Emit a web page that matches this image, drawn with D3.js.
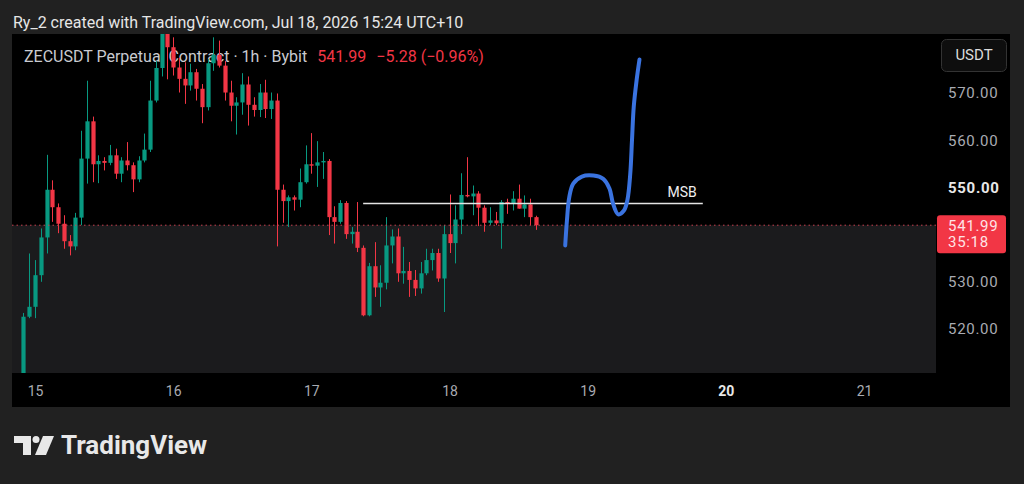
<!DOCTYPE html>
<html>
<head>
<meta charset="utf-8">
<script src="https://cdn.jsdelivr.net/npm/d3@7"></script>
<style>
  html, body { margin: 0; padding: 0; background: #212121; }
  svg { display: block; font-family: Roboto, "Noto Sans", sans-serif; }
</style>
</head>
<body>
<div id="chart"></div>
<script>
// ZECUSDT 1h candles, first bar Jul 14 22:00, one bar per hour
var firstBar = Date.UTC(2026, 6, 14, 22);
var opens = [510.0, 522.6, 524.7, 531.4, 539.4, 549.5, 545.8, 542.3, 538.6, 537.5,
  543.6, 556.1, 564.0, 554.9, 555.6, 555.2, 556.8, 552.9, 555.7, 554.7,
  551.7, 555.7, 558.0, 568.4, 575.3, 583.2, 579.7, 575.4, 573.0, 571.6,
  574.4, 570.9, 567.0, 576.3, 578.1, 575.8, 570.1, 567.3, 568.0, 571.8,
  567.5, 566.4, 570.1, 566.6, 568.4, 549.5, 547.1, 547.9, 547.4, 551.1,
  554.9, 554.6, 555.3, 555.6, 543.7, 542.7, 546.7, 540.1, 540.6, 537.2,
  522.9, 533.3, 528.8, 529.8, 537.7, 539.6, 531.8, 532.3, 530.4, 528.6,
  531.8, 534.6, 536.1, 530.7, 540.1, 538.2, 543.2, 548.4, 548.1, 548.7,
  545.7, 542.5, 543.0, 542.4, 546.9, 546.5, 547.6, 545.5, 546.4, 543.7];
var highs = [523.4, 536.0, 534.6, 541.3, 556.9, 551.5, 546.6, 544.1, 539.9, 544.6,
  562.0, 572.6, 565.0, 556.8, 556.4, 559.0, 558.2, 556.4, 559.6, 555.3,
  556.6, 561.4, 572.6, 576.8, 585.5, 586.0, 581.8, 577.5, 576.5, 576.2,
  575.1, 571.9, 577.2, 581.8, 581.1, 576.8, 572.6, 569.1, 574.2, 573.5,
  569.1, 571.9, 572.8, 570.1, 569.9, 550.6, 548.3, 548.3, 554.0, 558.9,
  561.5, 559.8, 557.5, 556.0, 546.0, 547.3, 547.1, 541.6, 546.9, 537.7,
  534.0, 538.4, 533.5, 543.7, 541.1, 541.3, 537.4, 534.2, 532.5, 534.2,
  537.0, 537.0, 537.0, 542.0, 548.5, 546.2, 553.0, 556.4, 550.4, 549.2,
  546.2, 545.8, 544.8, 547.3, 547.6, 549.2, 550.6, 548.3, 547.6, 544.0];
var lows = [509.0, 522.3, 522.3, 530.0, 536.0, 542.7, 540.3, 537.0, 535.6, 536.7,
  542.0, 550.8, 551.1, 550.9, 553.6, 554.7, 551.8, 551.1, 553.6, 549.0,
  551.1, 555.3, 557.5, 568.0, 573.5, 572.9, 573.7, 570.1, 567.7, 570.5,
  568.4, 563.6, 566.3, 574.7, 575.4, 568.4, 564.0, 561.2, 565.4, 563.1,
  565.0, 564.9, 564.7, 564.5, 537.5, 542.5, 541.6, 545.1, 545.8, 550.8,
  552.9, 550.1, 551.8, 539.9, 538.1, 542.3, 539.1, 538.1, 536.3, 522.7,
  522.7, 526.8, 524.7, 528.4, 533.9, 530.0, 529.6, 526.8, 527.0, 527.5,
  531.4, 532.4, 530.0, 523.6, 536.1, 533.9, 540.1, 547.9, 544.1, 541.8,
  540.6, 542.0, 542.0, 537.0, 544.4, 545.1, 545.5, 543.7, 542.0, 541.0];
var closes = [522.6, 524.7, 531.4, 539.4, 549.5, 545.8, 542.3, 538.6, 537.5, 543.6,
  556.1, 564.0, 554.9, 555.6, 555.2, 556.8, 552.9, 555.7, 554.7, 551.7,
  555.7, 558.0, 568.4, 575.3, 583.2, 579.7, 575.4, 573.0, 571.6, 574.4,
  570.9, 567.0, 576.3, 578.1, 575.8, 570.1, 567.3, 568.0, 571.8, 567.5,
  566.4, 570.1, 566.6, 568.4, 549.5, 547.1, 547.9, 547.4, 551.1, 554.9,
  554.6, 555.3, 555.6, 543.7, 542.7, 546.7, 540.1, 540.6, 537.2, 522.9,
  533.3, 528.8, 529.8, 537.7, 539.6, 531.8, 532.3, 530.4, 528.6, 531.8,
  534.6, 536.1, 530.7, 540.1, 538.2, 543.2, 548.4, 548.1, 548.7, 545.7,
  542.5, 543.0, 542.4, 546.9, 546.5, 547.6, 545.5, 546.4, 543.7, 541.99];

var lastPrice = 541.99;
var countdown = "35:18";
var priceTicks = [520, 530, 550, 560, 570];
var dayTicks = [15, 16, 17, 18, 19, 20, 21];

// MSB level drawn by hand: start / end time, price
var msbFrom = Date.UTC(2026, 6, 17, 9);
var msbTo = Date.UTC(2026, 6, 19, 20);
var msbPrice = 546.6;

// freehand projection, hours after Jul 15 00:00 and price
var pathHours = [92.1, 92.4, 92.8, 93.5, 95.0, 97.0, 98.7, 99.8, 100.4, 101.3, 102.3, 102.9, 103.4, 103.7, 104.0, 104.5, 105.0];
var pathPrices = [537.7, 543.0, 547.9, 550.8, 552.3, 552.5, 551.8, 549.7, 546.6, 544.3, 545.1, 547.3, 552.9, 560.0, 567.0, 572.7, 577.1];

var HOUR = 3600 * 1000;
var up = "#089981", down = "#f23645";

function draw() {
  var W = 1024, H = 484;
  var plot = { left: 12, right: 936, top: 34, bottom: 373 };
  var panel = { left: 12, right: 1010, top: 34, bottom: 407 };

  var x = d3.scaleUtc()
    .domain([Date.UTC(2026, 6, 15), Date.UTC(2026, 6, 21)])
    .range([35, 864]);
  var y = d3.scaleLinear().domain([520, 570]).range([329, 93]);

  var svg = d3.select("#chart").append("svg")
    .attr("width", W).attr("height", H);

  svg.append("rect").attr("width", W).attr("height", H).attr("fill", "#212121");

  svg.append("text")
    .attr("x", 13).attr("y", 28)
    .attr("font-size", 16).attr("fill", "#e6e6e6")
    .text("Ry_2 created with TradingView.com, Jul 18, 2026 15:24 UTC+10");

  // chart panel
  svg.append("rect")
    .attr("x", panel.left).attr("y", panel.top)
    .attr("width", panel.right - panel.left).attr("height", panel.bottom - panel.top)
    .attr("fill", "#000");

  svg.append("rect")
    .attr("x", plot.left).attr("y", y(lastPrice))
    .attr("width", plot.right - plot.left).attr("height", plot.bottom - y(lastPrice))
    .attr("fill", "#1b1b1d");

  // legend line
  var legend = svg.append("text").attr("x", 24).attr("y", 62).attr("font-size", 16);
  legend.append("tspan").attr("fill", "#c9cbd1").text("ZECUSDT Perpetual Contract · 1h · Bybit");
  legend.append("tspan").attr("fill", down).attr("dx", 10).text(d3.format(".2f")(lastPrice));
  legend.append("tspan").attr("fill", down).attr("dx", 10).text("−5.28 (−0.96%)");

  svg.append("clipPath").attr("id", "plotclip")
    .append("rect")
    .attr("x", plot.left).attr("y", plot.top)
    .attr("width", plot.right - plot.left).attr("height", plot.bottom - plot.top);

  var g = svg.append("g").attr("clip-path", "url(#plotclip)");

  var bars = closes.map(function(c, i) {
    return { t: firstBar + i * HOUR, o: opens[i], h: highs[i], l: lows[i], c: c };
  });

  var bw = 4.2;
  var candle = g.append("g").selectAll("g")
    .data(bars)
    .enter().append("g")
    .attr("fill", function(d) { return d.c >= d.o ? up : down; })
    .attr("stroke", function(d) { return d.c >= d.o ? up : down; });

  candle.append("line")
    .attr("x1", function(d) { return Math.round(x(d.t)) + 0.5; })
    .attr("x2", function(d) { return Math.round(x(d.t)) + 0.5; })
    .attr("y1", function(d) { return y(d.h); })
    .attr("y2", function(d) { return y(d.l); })
    .attr("stroke-width", 1);

  candle.append("rect")
    .attr("stroke", "none")
    .attr("x", function(d) { return Math.round(x(d.t)) + 0.5 - bw / 2; })
    .attr("width", bw)
    .attr("y", function(d) { return y(Math.max(d.o, d.c)); })
    .attr("height", function(d) { return Math.max(1, Math.abs(y(d.o) - y(d.c))); });

  // last price dotted line
  g.append("line")
    .attr("x1", plot.left).attr("x2", plot.right)
    .attr("y1", y(lastPrice)).attr("y2", y(lastPrice))
    .attr("stroke", "#c7404f").attr("stroke-width", 1)
    .attr("stroke-dasharray", "1.5,3");

  // MSB annotation
  g.append("line")
    .attr("x1", x(msbFrom)).attr("x2", x(msbTo))
    .attr("y1", y(msbPrice)).attr("y2", y(msbPrice))
    .attr("stroke", "#e4e4e4").attr("stroke-width", 1.5);

  g.append("text")
    .attr("x", x(msbTo) - 6).attr("y", y(msbPrice) - 6)
    .attr("text-anchor", "end")
    .attr("font-size", 14).attr("fill", "#eeeeee")
    .text("MSB");

  var t0 = Date.UTC(2026, 6, 15);
  var line = d3.line()
    .x(function(d) { return x(t0 + d[0] * HOUR); })
    .y(function(d) { return y(d[1]); })
    .curve(d3.curveCatmullRom);

  g.append("path")
    .datum(pathHours.map(function(h, i) { return [h, pathPrices[i]]; }))
    .attr("d", line)
    .attr("fill", "none")
    .attr("stroke", "#3a73e0").attr("stroke-width", 4)
    .attr("stroke-linecap", "round").attr("stroke-linejoin", "round");

  // price axis
  var yAxis = d3.axisRight(y)
    .tickValues(priceTicks)
    .tickFormat(d3.format(".2f"))
    .tickSize(0)
    .tickPadding(3);

  var ya = svg.append("g")
    .attr("transform", "translate(945,0)")
    .call(yAxis);
  ya.select(".domain").remove();
  ya.selectAll("text")
    .attr("font-family", "Roboto, sans-serif")
    .attr("font-size", 15)
    .attr("letter-spacing", 0.7)
    .attr("fill", function(d) { return d === 550 ? "#e8e8e8" : "#a9abb2"; })
    .attr("font-weight", function(d) { return d === 550 ? "bold" : "normal"; });

  // currency button
  svg.append("rect")
    .attr("x", 941.5).attr("y", 39.5).attr("width", 65).attr("height", 32).attr("rx", 5)
    .attr("fill", "#0e0e0e").attr("stroke", "#333");
  svg.append("text")
    .attr("x", 974).attr("y", 60).attr("text-anchor", "middle")
    .attr("font-size", 15).attr("fill", "#dcdcdc")
    .text("USDT");

  // last price label
  svg.append("rect")
    .attr("x", 937).attr("y", y(lastPrice) - 10).attr("width", 69).attr("height", 38).attr("rx", 3)
    .attr("fill", down);
  svg.append("text")
    .attr("x", 948).attr("y", y(lastPrice) + 6)
    .attr("font-size", 15).attr("letter-spacing", 0.7).attr("fill", "#ffe3e6")
    .text(d3.format(".2f")(lastPrice));
  svg.append("text")
    .attr("x", 948).attr("y", y(lastPrice) + 22)
    .attr("font-size", 15).attr("letter-spacing", 0.7).attr("fill", "#ffe3e6")
    .text(countdown);

  // time axis
  var xAxis = d3.axisBottom(x)
    .tickValues(dayTicks.map(function(d) { return new Date(Date.UTC(2026, 6, d)); }))
    .tickFormat(function(d) { return d.getUTCDate(); })
    .tickSize(0)
    .tickPadding(13);

  var xa = svg.append("g")
    .attr("transform", "translate(0," + plot.bottom + ")")
    .call(xAxis);
  xa.select(".domain").remove();
  xa.selectAll("text")
    .attr("font-family", "Roboto, sans-serif")
    .attr("font-size", 14)
    .attr("fill", function(d) { return d.getUTCDate() === 20 ? "#e8e8e8" : "#a9abb2"; })
    .attr("font-weight", function(d) { return d.getUTCDate() === 20 ? "bold" : "normal"; });

  // TradingView mark
  var logo = svg.append("g").attr("fill", "#e8e8e8");
  logo.append("path").attr("d", "M14,436 H31 V455 H23 V443 H14 Z");
  logo.append("circle").attr("cx", 36).attr("cy", 439.5).attr("r", 3.5);
  logo.append("path").attr("d", "M43,436 H54 L46,455 H35 Z");
  logo.append("text")
    .attr("x", 61).attr("y", 454)
    .attr("font-size", 26).attr("font-weight", "bold")
    .text("TradingView");
}

draw();
</script>
</body>
</html>
